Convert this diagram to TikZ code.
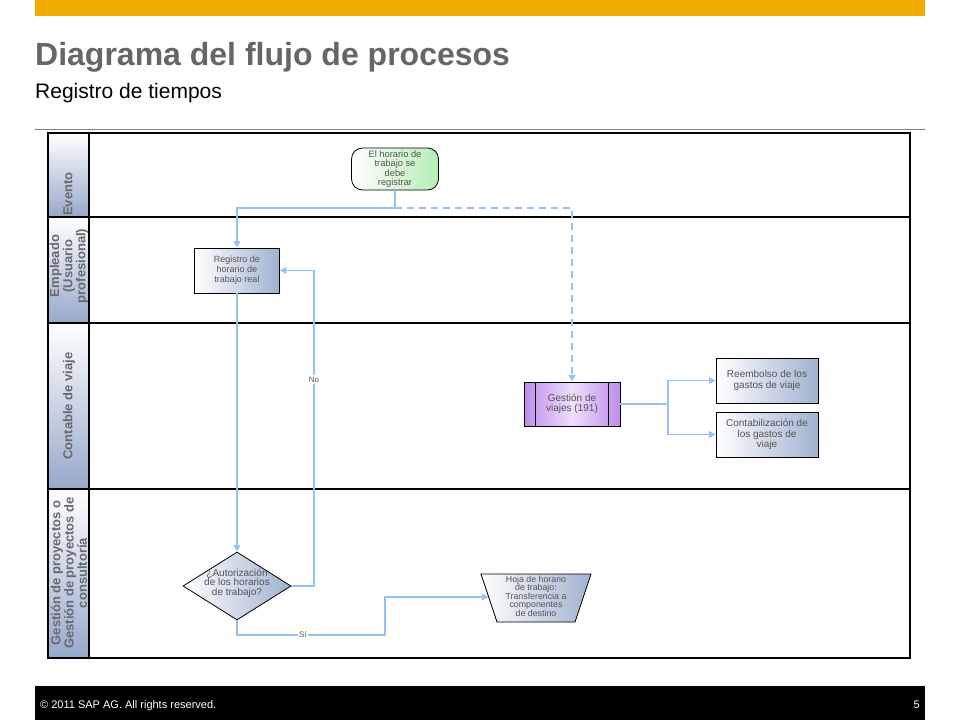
\documentclass[tikz,border=0pt]{standalone}
\usepackage{fontspec}
\setmainfont{Liberation Sans}
\usetikzlibrary{shapes.geometric,arrows.meta}

\definecolor{sapgold}{RGB}{240,171,0}
\definecolor{flow}{RGB}{145,195,245}
\definecolor{nodeblue}{RGB}{160,178,208}
\definecolor{lanehead}{RGB}{150,168,202}
\definecolor{txtgray}{RGB}{85,85,85}
\definecolor{lanetxt}{RGB}{105,105,110}
\definecolor{titlegray}{RGB}{102,102,102}
\definecolor{evgreen}{RGB}{180,238,180}
\definecolor{gvpurple}{RGB}{190,140,235}
\definecolor{gvlight}{RGB}{238,222,252}

\begin{document}
\begin{tikzpicture}[x=1pt,y=-1pt,
 box/.style={draw=black, line width=0.8pt, left color=white, right color=nodeblue, font=\fontsize{10}{10.5}\selectfont, text=txtgray, align=center, inner sep=1pt},
 flowline/.style={draw=flow, line width=1.6pt},
 arr/.style={-{Triangle[length=6.5pt,width=6.5pt]}},
 lanelbl/.style={rotate=90, font=\bfseries\fontsize{13}{11}\selectfont, text=lanetxt, align=center, inner sep=0pt},
 edgelbl/.style={fill=white, font=\fontsize{8}{8}\selectfont, text=txtgray, inner sep=1.5pt},
 lanerule/.style={line width=2.5pt, draw=black}
]
\useasboundingbox (0,0) rectangle (960,720);
\fill[white] (0,0) rectangle (960,720);

% header
\fill[sapgold] (35,0) rectangle (925,16);
\node[anchor=base west, font=\bfseries\fontsize{32}{34}\selectfont, text=titlegray, inner sep=0pt] (title) at (35,65) {Diagrama del flujo de procesos};
\node[anchor=base west, font=\fontsize{21}{24}\selectfont, text=black, inner sep=0pt] (subtitle) at (35,98) {Registro de tiempos};
\draw[gray, line width=0.8pt] (35,129) -- (925,129);

% footer
\fill[black] (35,686) rectangle (925,720);
\node[anchor=base west, font=\fontsize{11}{12}\selectfont, text=white, inner sep=0pt] (copy) at (40,708) {\textcopyright\ 2011 SAP AG. All rights reserved.};
\node[anchor=base east, font=\fontsize{11}{12}\selectfont, text=white, inner sep=0pt] (pagenum) at (920,708) {5};

% lane headers
\shade[top color=white, bottom color=lanehead] (48,133) rectangle (89,217);
\shade[top color=white, bottom color=lanehead] (48,217) rectangle (89,323);
\shade[top color=white, bottom color=lanehead] (48,323) rectangle (89,489);
\shade[top color=white, bottom color=lanehead] (48,489) rectangle (89,658);

\draw[lanerule] (48,133) rectangle (910,658);
\draw[lanerule] (89,133) -- (89,658);
\draw[lanerule] (48,217) -- (910,217);
\draw[lanerule] (48,323) -- (910,323);
\draw[lanerule] (48,489) -- (910,489);

\node[lanelbl] (l1) at (68,194) {Evento};
\node[lanelbl] (l2) at (69,266) {Empleado\\(Usuario\\profesional)};
\node[lanelbl] (l3) at (69,406) {Contable de viaje};
\node[lanelbl] (l4) at (69,573) {Gestión de proyectos o\\Gestión de proyectos de\\consultoría};

% nodes
\node[box, rounded corners=11pt, minimum width=87pt, minimum height=42pt, right color=evgreen, font=\fontsize{9.3}{9.3}\selectfont] (ev) at (395,169) {El horario de\\trabajo se\\debe\\registrar};
\node[box, minimum width=85pt, minimum height=45pt, font=\fontsize{9}{10}\selectfont] (reg) at (237,270.5) {Registro de\\horario de\\trabajo real};
\node[box, minimum width=96pt, minimum height=44pt, left color=gvpurple, right color=gvpurple, middle color=gvlight] (gv) at (572,404) {Gestión de\\viajes (191)};
\draw[line width=0.8pt] ([xshift=12pt]gv.north west) -- ([xshift=12pt]gv.south west);
\draw[line width=0.8pt] ([xshift=-12pt]gv.north east) -- ([xshift=-12pt]gv.south east);
\node[box, minimum width=102pt, minimum height=45pt] (rb) at (767,380.5) {Reembolso de los\\gastos de viaje};
\node[box, minimum width=102pt, minimum height=45pt] (cb) at (767,434.5) {Contabilización de\\los gastos de\\viaje};

\node[diamond, draw=black, line width=0.8pt, left color=white, right color=nodeblue, minimum width=108pt, minimum height=68pt, inner sep=0pt] (dec) at (237,586) {};
\node[font=\fontsize{10}{9.6}\selectfont, text=txtgray, align=center, inner sep=0pt] (dectxt) at (237,583) {¿Autorización\\de los horarios\\de trabajo?};

\shade[draw=black, line width=0.8pt, left color=white, right color=nodeblue] (481,574) -- (591,574) -- (575,622) -- (497,622) -- cycle;
\node[font=\fontsize{8.8}{8.5}\selectfont, text=txtgray, align=center, inner sep=0pt] (hoja) at (536,596) {Hoja de horario\\de trabajo:\\Transferencia a\\componentes\\de destino};
\coordinate (trapw) at (488.5,597);

% connectors
\coordinate (j1) at (395,208);
\draw[flowline, arr] (ev.south) -- (j1) -| (reg.north);
\draw[flowline, dash pattern=on 7pt off 5pt, arr] (j1) -| (gv.north);
\draw[flowline, arr] (reg.south) -- (dec.north);
\coordinate (nob) at (314,586);
\coordinate (not) at (314,270.5);
\draw[flowline, arr] (dec.east) -- (nob) -- node[edgelbl, pos=0.655] (nolbl) {No} (not) -- (reg.east);
\coordinate (s1) at (237,635);
\coordinate (s2) at (385,635);
\coordinate (s3) at (385,597);
\draw[flowline, arr] (dec.south) -- (s1) -- node[edgelbl, pos=0.446] (silbl) {Sí} (s2) -- (s3) -- (trapw);
\coordinate (br) at (668,404);
\draw[flowline] (gv.east) -- (br);
\draw[flowline, arr] (br) |- (rb.west);
\draw[flowline, arr] (br) |- (cb.west);
\end{tikzpicture}
\end{document}
